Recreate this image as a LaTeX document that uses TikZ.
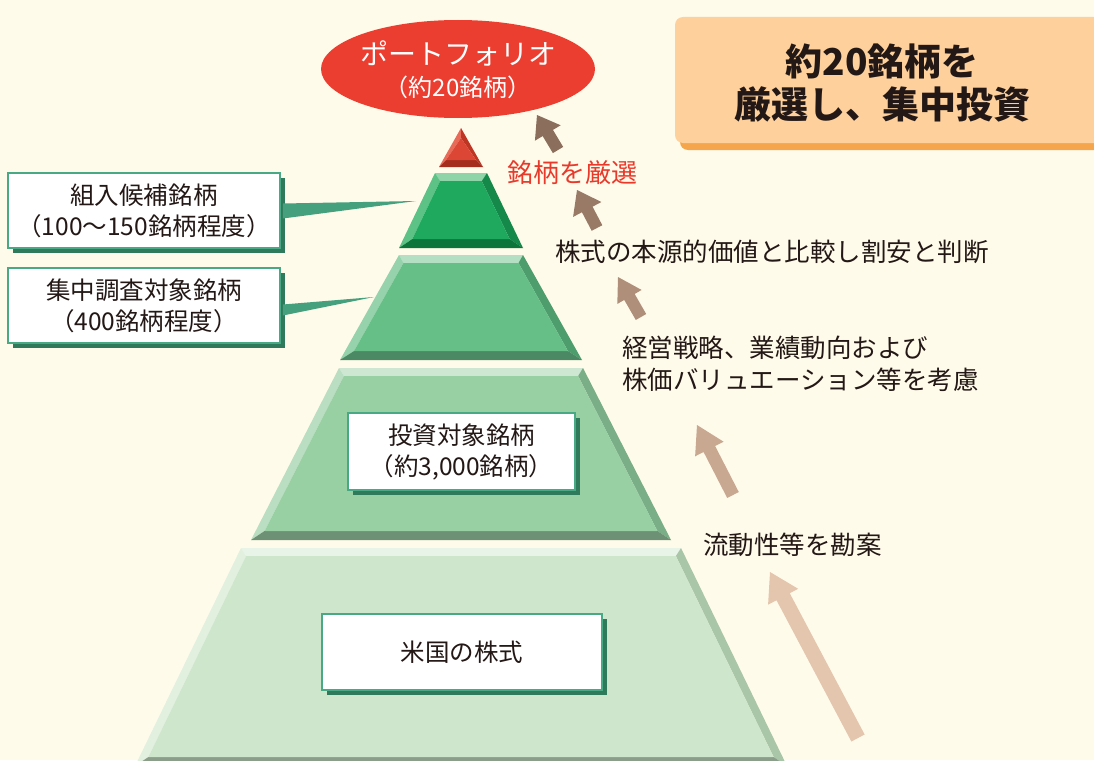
\documentclass[tikz,border=0pt]{standalone}
\usepackage{fontspec}
\newfontfamily\jp{Noto Sans CJK JP}
\usetikzlibrary{arrows.meta,shadows,shapes.geometric,calc}
\definecolor{bg}{HTML}{FFFBEA}
\definecolor{ink}{HTML}{231815}
\definecolor{boxline}{HTML}{4AA985}
\definecolor{boxshadow}{HTML}{2E7A5A}
\definecolor{wedgec}{HTML}{45A07E}
\definecolor{portred}{HTML}{EC3E30}
\definecolor{selred}{HTML}{E8392B}
\definecolor{titlefill}{HTML}{FDD09C}
\definecolor{titleshadow}{HTML}{F5A54B}
\definecolor{tiface}{HTML}{1FA95E}\definecolor{titop}{HTML}{8ED4A8}\definecolor{tileft}{HTML}{5DC285}\definecolor{tiright}{HTML}{15894A}\definecolor{tibot}{HTML}{0C763A}
\definecolor{tjface}{HTML}{66BF87}\definecolor{tjtop}{HTML}{B4DFC3}\definecolor{tjleft}{HTML}{96D2AB}\definecolor{tjright}{HTML}{4E9E6D}\definecolor{tjbot}{HTML}{4A8963}
\definecolor{tkface}{HTML}{98CFA3}\definecolor{tktop}{HTML}{CDE7D2}\definecolor{tkleft}{HTML}{B9DEC1}\definecolor{tkright}{HTML}{7AAE86}\definecolor{tkbot}{HTML}{6C9174}
\definecolor{tlface}{HTML}{CEE6CB}\definecolor{tltop}{HTML}{E9F4E8}\definecolor{tlleft}{HTML}{E2F0E0}\definecolor{tlright}{HTML}{A9C6A8}\definecolor{tlbot}{HTML}{8A9E8A}
\definecolor{rface}{HTML}{DC4634}\definecolor{rleft}{HTML}{E86A58}\definecolor{rright}{HTML}{BE3524}\definecolor{rbot}{HTML}{A52D1D}
\definecolor{arA}{HTML}{8B6F5C}\definecolor{arB}{HTML}{987A66}\definecolor{arC}{HTML}{B08F7A}\definecolor{arD}{HTML}{C9A892}\definecolor{arE}{HTML}{E4C5AD}

% #1 ytop #2 hw top #3 ybot #4 hw bot #5 face #6 top #7 left #8 right #9 bottom
\newcommand\pyrtier[9]{%
  \pgfmathsetmacro\pk{(#4-#2)/(#3-#1)}%
  \pgfmathsetmacro\pyi{#1+8}%
  \pgfmathsetmacro\pyj{#3-9}%
  \pgfmathsetmacro\pwi{#2+\pk*8-9}%
  \pgfmathsetmacro\pwj{#4-\pk*9-9}%
  \coordinate (TL) at (461-#2,#1);
  \coordinate (TR) at (461+#2,#1);
  \coordinate (BR) at (461+#4,#3);
  \coordinate (BL) at (461-#4,#3);
  \coordinate (iTL) at (461-\pwi,\pyi);
  \coordinate (iTR) at (461+\pwi,\pyi);
  \coordinate (iBR) at (461+\pwj,\pyj);
  \coordinate (iBL) at (461-\pwj,\pyj);
  \fill[#6] (TL) -- (TR) -- (iTR) -- (iTL) -- cycle;
  \fill[#7] (TL) -- (iTL) -- (iBL) -- (BL) -- cycle;
  \fill[#8] (TR) -- (BR) -- (iBR) -- (iTR) -- cycle;
  \fill[#9] (BL) -- (BR) -- (iBR) -- (iBL) -- cycle;
  \fill[#5] (iTL) -- (iTR) -- (iBR) -- (iBL) -- cycle;
}
% #1 tail #2 tip #3 colour #4 shaft half width #5 head half width #6 head length
\newcommand\barrow[6]{%
  \coordinate (hb) at ($(#2)!#6!(#1)$);
  \fill[#3] ($(#1)!#4!90:(#2)$) -- ($(hb)!#4!90:(#2)$) -- ($(hb)!#5!90:(#2)$) -- (#2)
    -- ($(hb)!#5!-90:(#2)$) -- ($(hb)!#4!-90:(#2)$) -- ($(#1)!#4!-90:(#2)$) -- cycle;
}

\begin{document}
\begin{tikzpicture}[x=1pt,y=-1pt,
  every node/.style={font=\jp},
  lbox/.style={draw=boxline, line width=1.8pt, fill=white, inner sep=0pt, align=center,
    text=ink, font=\jp\fontsize{24.5}{31}\selectfont,
    drop shadow={shadow xshift=5pt, shadow yshift=-5pt, fill=boxshadow, opacity=1}},
  rlab/.style={anchor=west, inner sep=0pt, text=ink, align=left, font=\jp\fontsize{25.5}{32}\selectfont}]
\useasboundingbox (0,0) rectangle (1094,760);
\clip (0,0) rectangle (1094,760);
\fill[bg] (0,0) rectangle (1094,760);

% pyramid
\coordinate (rA) at (461,128);
\coordinate (rL) at (439,167);
\coordinate (rR) at (483,167);
\coordinate (riA) at (461,138);
\coordinate (riL) at (446,160);
\coordinate (riR) at (476,160);
\fill[rleft] (rA) -- (riA) -- (riL) -- (rL) -- cycle;
\fill[rright] (rA) -- (rR) -- (riR) -- (riA) -- cycle;
\fill[rbot] (rL) -- (rR) -- (riR) -- (riL) -- cycle;
\fill[rface] (riA) -- (riR) -- (riL) -- cycle;
\pyrtier{173}{26}{248}{62}{tiface}{titop}{tileft}{tiright}{tibot}
\pyrtier{255}{62}{360}{121}{tjface}{tjtop}{tjleft}{tjright}{tjbot}
\pyrtier{368}{122}{540}{210}{tkface}{tktop}{tkleft}{tkright}{tkbot}
\pyrtier{548}{220}{766}{326}{tlface}{tltop}{tlleft}{tlright}{tlbot}

% portfolio ellipse
\node[ellipse, fill=portred, minimum width=274pt, minimum height=98pt, inner sep=0pt] (port) at (458,69) {};
\node[text=white, font=\jp\fontsize{28}{30}\selectfont] (portA) at (458,53) {ポートフォリオ};
\node[text=white, font=\jp\fontsize{24}{26}\selectfont] (portB) at (458,87) {（約20銘柄）};

% title box
\fill[titleshadow, rounded corners=8pt] (680,22) rectangle (1120,150);
\fill[titlefill, rounded corners=8pt] (675,17) rectangle (1120,143);
\node[text=ink, align=center, font=\jp\bfseries\fontsize{37}{43}\selectfont] (title) at (882,83.5) {約20銘柄を\\厳選し、集中投資};

% left label boxes
\node[lbox, minimum width=272pt, minimum height=75pt] (candA) at (144,210.5) {組入候補銘柄\\（100～150銘柄程度）};
\node[lbox, minimum width=272pt, minimum height=75pt] (candB) at (144,305.5) {集中調査対象銘柄\\（400銘柄程度）};
\coordinate (tipA) at (416,201);
\coordinate (tipB) at (374,297);
\fill[wedgec] ($(candA.east)+(2,-7)$) -- (tipA) -- ($(candA.east)+(2,8)$) -- cycle;
\fill[wedgec] ($(candB.east)+(2,-1)$) -- (tipB) -- ($(candB.east)+(2,10)$) -- cycle;

% boxes on pyramid
\node[lbox, minimum width=227pt, minimum height=77pt] (invC) at (461.5,451.5) {投資対象銘柄\\（約3,000銘柄）};
\node[lbox, minimum width=280pt, minimum height=76pt] (usD) at (462,652) {米国の株式};

% right labels
\node[anchor=west, inner sep=0pt, text=selred, font=\jp\fontsize{26}{30}\selectfont] (sel) at (507,173) {銘柄を厳選};
\node[rlab] (l1) at (555,252) {株式の本源的価値と比較し割安と判断};
\node[rlab] (l2) at (622,364) {経営戦略、業績動向および\\株価バリュエーション等を考慮};
\node[rlab] (l3) at (703,545) {流動性等を勘案};

% arrows
\coordinate (a1t) at (558,150); \coordinate (a1h) at (537,115);
\coordinate (a2t) at (597,228); \coordinate (a2h) at (577,190);
\coordinate (a3t) at (641,317); \coordinate (a3h) at (618,277);
\coordinate (a4t) at (733,495); \coordinate (a4h) at (697,425);
\coordinate (a5t) at (858,738); \coordinate (a5h) at (770,572);
\barrow{a1t}{a1h}{arA}{6pt}{15pt}{21pt}
\barrow{a2t}{a2h}{arB}{6pt}{16pt}{22pt}
\barrow{a3t}{a3h}{arC}{6pt}{14pt}{23pt}
\barrow{a4t}{a4h}{arD}{6.5pt}{16pt}{27pt}
\barrow{a5t}{a5h}{arE}{7.5pt}{17pt}{28pt}
\end{tikzpicture}
\end{document}
